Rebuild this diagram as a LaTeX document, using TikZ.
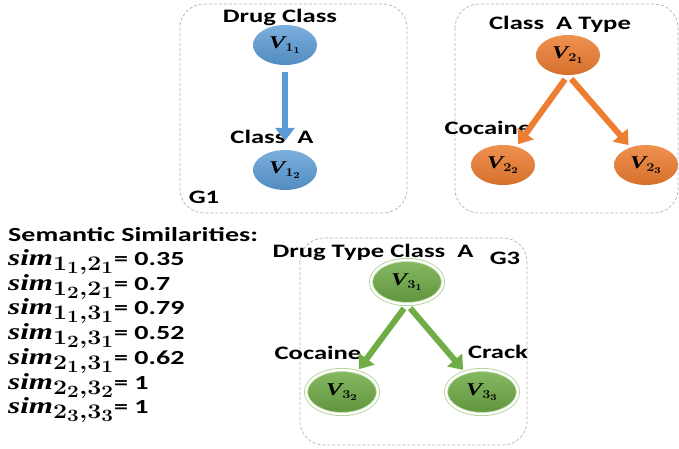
\documentclass[tikz,border=0pt]{standalone}
\usepackage{amsmath}
\usepackage[no-math]{fontspec}
\setmainfont{Carlito}[FakeStretch=1.4]
\newfontfamily\serifBI{Liberation Serif}[FakeStretch=1.35]
\usetikzlibrary{positioning,arrows.meta,shapes.geometric}
\definecolor{blueFill}{HTML}{5B9BD5}
\definecolor{orangeFill}{HTML}{ED7D31}
\definecolor{greenFill}{HTML}{70AD47}
\definecolor{greenRing}{HTML}{A9D18E}
\newcommand{\widesub}[2][1.35]{\scalebox{#1}[1]{\boldmath$_{#2}$}}
\newcommand{\vname}[1]{{\serifBI\bfseries\itshape V}\widesub[1.2]{#1}}
\newcommand{\simterm}[1]{{\fontsize{23}{24}\selectfont\serifBI\bfseries\itshape sim}{\fontsize{24.88}{26}\selectfont\widesub[1.2]{#1}}}
\tikzstyle{graphBox}=[draw=gray!60, dash pattern=on 3pt off 2pt, rounded corners=24pt, line width=0.7pt]
\tikzstyle{vertex}=[ellipse, inner sep=0pt, minimum width=64pt, minimum height=40pt, font=\fontsize{18}{20}\selectfont]
\tikzstyle{blueVertex}=[vertex, top color=blueFill!80!white, bottom color=blueFill!90!black]
\tikzstyle{orangeVertex}=[vertex, top color=orangeFill!85!white, bottom color=orangeFill!90!black]
\tikzstyle{greenVertex}=[vertex, minimum width=72pt, minimum height=44pt, top color=greenFill!85!white, bottom color=greenFill!85!black, draw=greenRing, line width=0.8pt, double=white, double distance=2.5pt]
\tikzstyle{nodeLabel}=[font=\fontsize{19}{22}\selectfont\bfseries, inner sep=0pt]
\tikzstyle{simLine}=[anchor=west, inner sep=0pt, font=\fontsize{20}{24}\selectfont\bfseries]
\tikzstyle{fatArrow}=[-{Triangle[width=19pt,length=13pt]}, line width=6pt]

\begin{document}
\begin{tikzpicture}[x=1pt, y=-1pt]
	\useasboundingbox (0,0) rectangle (679,449);

	% G1
	\draw[graphBox] (180,4) rectangle (407,213);
	\node[blueVertex] (v11) at (285,45) {\vname{1_1}};
	\node[blueVertex] (v12) at (285,170) {\vname{1_2}};
	\node[nodeLabel] (l11) at (280,17) {Drug Class};
	\node[nodeLabel] (l12) at (272,137) {Class\ \ A};
	\node[nodeLabel] (g1) at (204,197) {G1};
	\draw[fatArrow, blueFill, shorten <=7pt, shorten >=9pt] (v11) -- (v12);

	% G2
	\draw[graphBox] (455,4) rectangle (678,213);
	\node[orangeVertex] (v21) at (568,55) {\vname{2_1}};
	\node[orangeVertex] (v22) at (503,165) {\vname{2_2}};
	\node[orangeVertex] (v23) at (646,165) {\vname{2_3}};
	\node[nodeLabel] (l21) at (560,24) {Class\ \ A Type};
	\node[nodeLabel] (l22) at (488,128) {Cocaine};
	\draw[fatArrow, orangeFill, shorten <=5pt, shorten >=3pt] (v21.south) -- (v22);
	\draw[fatArrow, orangeFill, shorten <=5pt, shorten >=3pt] (v21.south) -- (v23);

	% G3
	\draw[graphBox] (300,238) rectangle (527,445);
	\node[greenVertex] (v31) at (407,282) {\vname{3_1}};
	\node[greenVertex] (v32) at (342,392) {\vname{3_2}};
	\node[greenVertex] (v33) at (482,392) {\vname{3_3}};
	\node[nodeLabel] (l31) at (373,252) {Drug Type Class\ \ A};
	\node[nodeLabel] (g3) at (505,258) {G3};
	\node[nodeLabel] (l32) at (318,353) {Cocaine};
	\node[nodeLabel] (l33) at (498,352) {Crack};
	\draw[fatArrow, greenFill, shorten <=5pt, shorten >=3pt] (v31.south) -- (v32);
	\draw[fatArrow, greenFill, shorten <=5pt, shorten >=3pt] (v31.south) -- (v33);

	% similarities
	\node[simLine] (s0) at (8,235) {Semantic Similarities:};
	\node[simLine] (s1) at (8,262) {\simterm{1_1,2_1}= 0.35};
	\node[simLine] (s2) at (8,287) {\simterm{1_2,2_1}= 0.7};
	\node[simLine] (s3) at (8,311) {\simterm{1_1,3_1}= 0.79};
	\node[simLine] (s4) at (8,336) {\simterm{1_2,3_1}= 0.52};
	\node[simLine] (s5) at (8,361) {\simterm{2_1,3_1}= 0.62};
	\node[simLine] (s6) at (8,386) {\simterm{2_2,3_2}= 1};
	\node[simLine] (s7) at (8,410) {\simterm{2_3,3_3}= 1};
\end{tikzpicture}
\end{document}
